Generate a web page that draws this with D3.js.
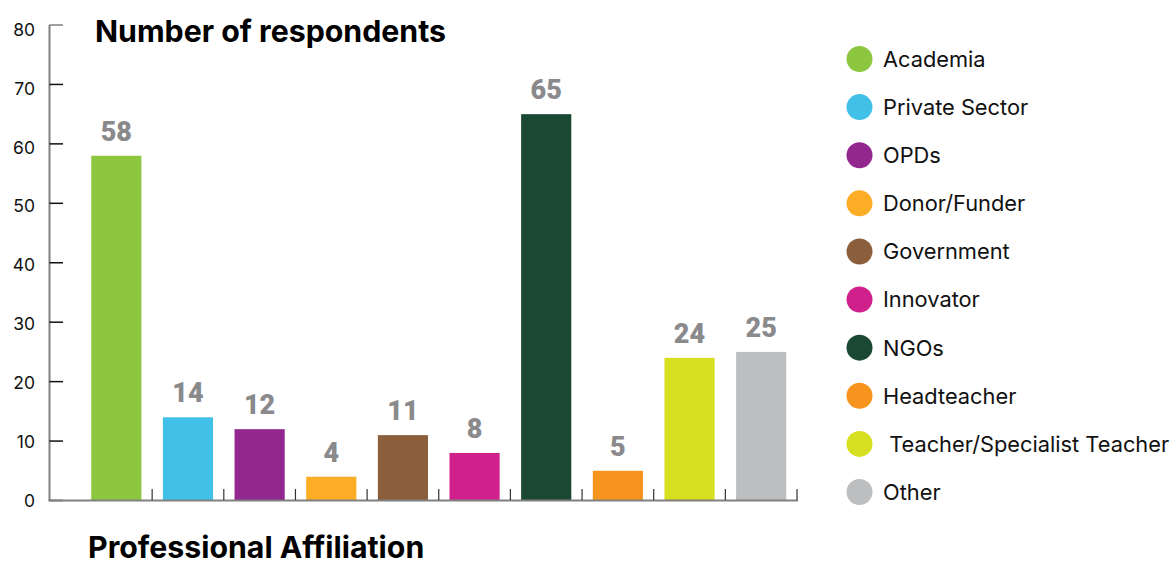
<!DOCTYPE html>
<html><head><meta charset="utf-8">
<script src="https://cdn.jsdelivr.net/npm/d3@7"></script>
<style>body{margin:0;background:#fff}svg{display:block}</style>
</head><body>
<svg id="chart" width="1175" height="561"></svg>
<script>
const categories = ["Academia","Private Sector","OPDs","Donor/Funder","Government","Innovator","NGOs","Headteacher"," Teacher/Specialist Teacher","Other"];
const values = [58,14,12,4,11,8,65,5,24,25];
const colors = ["#8dc63f","#41c0e8","#92278f","#fbad26","#8b5e3c","#cf208b","#1b4833","#f7941d","#d7df21","#bcbec0"];
const yTicks = [0,10,20,30,40,50,60,70,80];
const yTitle = "Number of respondents";
const xTitle = "Professional Affiliation";

const svg = d3.select("#chart");
const font = "Inter, 'Helvetica Neue', Arial, sans-serif";

const x = d3.scaleBand().domain(categories).range([80.5, 797]).paddingInner(0.3).paddingOuter(0.15);
const y = d3.scaleLinear().domain([0, 80]).range([500.5, 25]);

// y axis line
svg.append("line").attr("x1", 49.5).attr("x2", 49.5).attr("y1", y(80)).attr("y2", y(0))
  .attr("stroke", "#808080").attr("stroke-width", 2);
// y ticks
const yg = svg.append("g");
yg.selectAll("line").data(yTicks).join("line")
  .attr("x1", 49.5).attr("x2", 63).attr("y1", d => y(d)).attr("y2", d => y(d))
  .attr("stroke", d => d === 80 ? "#808080" : "#111").attr("stroke-width", 1.5);
yg.selectAll("text").data(yTicks).join("text")
  .attr("x", 35).attr("y", d => y(d) + d * 0.06).attr("dy", "0.35em")
  .attr("text-anchor", "end").attr("font-family", font).attr("font-size", 17.5).attr("fill", "#111")
  .text(d => d);

// bars
svg.append("g").selectAll("rect").data(values).join("rect")
  .attr("x", (d, i) => x(categories[i])).attr("width", x.bandwidth())
  .attr("y", d => y(d)).attr("height", d => y(0) - y(d))
  .attr("fill", (d, i) => colors[i]);

// value labels
svg.append("g").selectAll("text").data(values).join("text")
  .attr("x", (d, i) => x(categories[i]) + x.bandwidth() / 2)
  .attr("y", d => y(d) - 15)
  .attr("text-anchor", "middle").attr("font-family", "Roboto, Inter, Arial, sans-serif")
  .attr("font-weight", 900).attr("font-size", 27).attr("fill", "#8a8a8c")
  .text(d => d);

// x axis line
svg.append("line").attr("x1", 48.5).attr("x2", 798).attr("y1", 500.5).attr("y2", 500.5)
  .attr("stroke", "#808080").attr("stroke-width", 2);
// category separators
const step = x.step();
svg.append("g").selectAll("line").data(categories).join("line")
  .attr("x1", d => x(d) - x.paddingOuter() * step + step).attr("x2", d => x(d) - x.paddingOuter() * step + step)
  .attr("y1", 489).attr("y2", 500)
  .attr("stroke", "#333").attr("stroke-width", 1.2);

// titles
svg.append("text").attr("x", 95).attr("y", 42).attr("font-family", font).attr("font-weight", 700)
  .attr("font-size", 30.3).attr("fill", "#000").text(yTitle);
svg.append("text").attr("x", 88).attr("y", 558).attr("font-family", font).attr("font-weight", 700)
  .attr("font-size", 30.3).attr("fill", "#000").text(xTitle);

// legend
const lg = svg.append("g");
const ly = d3.scalePoint().domain(categories).range([59, 492]);
lg.selectAll("circle").data(categories).join("circle")
  .attr("cx", 859.5).attr("cy", d => ly(d)).attr("r", 13)
  .attr("fill", (d, i) => colors[i]);
lg.selectAll("text").data(categories).join("text")
  .attr("x", 883).attr("y", d => ly(d)).attr("dy", "0.36em")
  .attr("font-family", font).attr("font-size", 21.8).attr("fill", "#111")
  .style("white-space", "pre").attr("xml:space", "preserve")
  .text(d => d);
</script>
</body></html>
